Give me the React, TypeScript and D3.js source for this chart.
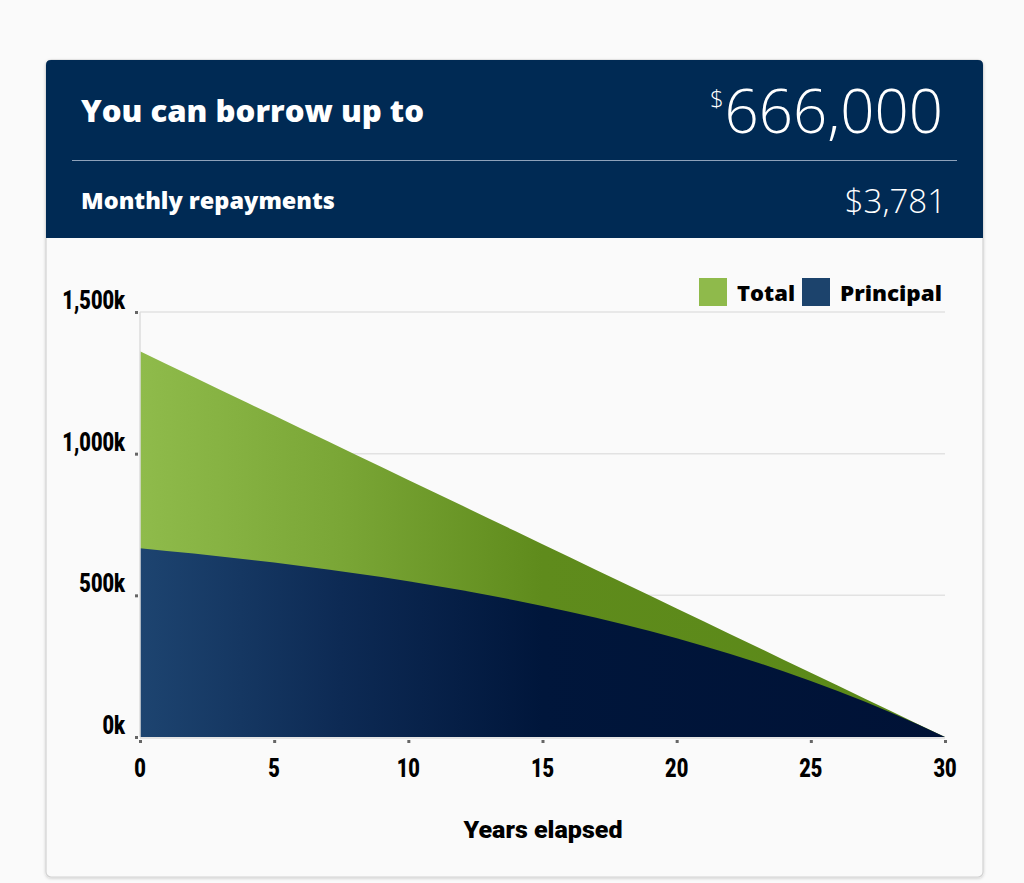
import React, { useEffect, useRef } from "react";
import * as d3 from "d3";

const years = [0,1,2,3,4,5,6,7,8,9,10,11,12,13,14,15,16,17,18,19,20,21,22,23,24,25,26,27,28,29,30];
const totalK = [1361.2,1315.8,1270.4,1225.0,1179.7,1134.3,1088.9,1043.6,998.2,952.8,907.4,862.1,816.7,771.3,726.0,680.6,635.2,589.8,544.5,499.1,453.7,408.4,363.0,317.6,272.2,226.9,181.5,136.1,90.7,45.4,0];
const principalK = [665.9,656.9,647.5,637.4,626.9,615.7,603.9,591.4,578.3,564.3,549.7,534.2,517.7,500.4,482.1,462.7,442.3,420.7,397.9,373.9,348.4,321.6,293.1,263.1,231.4,198.0,162.6,125.2,85.7,44.1,0];
const yTicks = [0, 500, 1000, 1500];
const xTicks = [0, 5, 10, 15, 20, 25, 30];
const legendItems = ["Total", "Principal"];

const W = 1024, H = 883;
const M = { left: 140, right: 945, top: 312, bottom: 737 };

export default function App() {
  const ref = useRef<SVGSVGElement | null>(null);
  useEffect(() => {
    const svg = d3.select(ref.current);
    svg.selectAll("*").remove();
    const defs = svg.append("defs");
    const gGreen = defs.append("linearGradient").attr("id", "gGreen").attr("gradientUnits", "userSpaceOnUse")
      .attr("x1", M.left).attr("x2", M.right).attr("y1", 0).attr("y2", 0);
    [[0, "#8fbb4b"], [0.25, "#7aa636"], [0.5, "#5f8b1c"], [1, "#5a8918"]].forEach(([o, c]) =>
      gGreen.append("stop").attr("offset", o as number).attr("stop-color", c as string));
    const gNavy = defs.append("linearGradient").attr("id", "gNavy").attr("gradientUnits", "userSpaceOnUse")
      .attr("x1", M.left).attr("x2", M.right).attr("y1", 0).attr("y2", 0);
    [[0, "#1d4470"], [0.25, "#0d2a54"], [0.5, "#00163b"], [1, "#001236"]].forEach(([o, c]) =>
      gNavy.append("stop").attr("offset", o as number).attr("stop-color", c as string));
    const shadow = defs.append("filter").attr("id", "sh").attr("x", "-5%").attr("y", "-5%").attr("width", "110%").attr("height", "110%");
    shadow.append("feDropShadow").attr("dx", 0).attr("dy", 1).attr("stdDeviation", 1.5).attr("flood-color", "#000").attr("flood-opacity", 0.18);

    svg.append("rect").attr("width", W).attr("height", H).attr("fill", "#fafafa");
    // card
    svg.append("rect").attr("x", 46).attr("y", 60).attr("width", 937).attr("height", 817).attr("rx", 5)
      .attr("fill", "#fafafa").attr("stroke", "#d2d2d2").attr("stroke-width", 1.2).attr("filter", "url(#sh)");
    // header
    svg.append("path").attr("d", "M46,238 V65 Q46,60 51,60 H978 Q983,60 983,65 V238 Z").attr("fill", "#002a54");
    svg.append("line").attr("x1", 72).attr("x2", 957).attr("y1", 160.5).attr("y2", 160.5).attr("stroke", "#8ea2bb").attr("stroke-width", 1.2);
    const hf = "'Open Sans', Lato, sans-serif";
    svg.append("text").attr("x", 81).attr("y", 122).attr("fill", "#fff").attr("font-family", hf).attr("font-weight", 800)
      .attr("font-size", 30).attr("textLength", 343).attr("lengthAdjust", "spacingAndGlyphs").text("You can borrow up to");
    const big = svg.append("text").attr("x", 947).attr("y", 133).attr("text-anchor", "end").attr("fill", "#fff")
      .attr("font-family", "'Open Sans', Lato, sans-serif").attr("font-weight", 300).attr("font-size", 60);
    big.append("tspan").attr("font-size", 24).attr("dy", -26).attr("dx", -4).text("$");
    big.append("tspan").attr("dy", 26).attr("dx", 1).text("666,000");
    svg.append("text").attr("x", 81).attr("y", 209).attr("fill", "#fff").attr("font-family", hf).attr("font-weight", 800)
      .attr("font-size", 22).attr("textLength", 254).attr("lengthAdjust", "spacingAndGlyphs").text("Monthly repayments");
    svg.append("text").attr("x", 946).attr("y", 213).attr("text-anchor", "end").attr("fill", "#fff")
      .attr("font-family", "'Open Sans', Lato, sans-serif").attr("font-weight", 300).attr("font-size", 33).text("$3,781");

    const x = d3.scaleLinear().domain([0, 30]).range([M.left, M.right]);
    const y = d3.scaleLinear().domain([0, 1500]).range([M.bottom, M.top]);

    // grid
    svg.append("g").selectAll("line").data(yTicks.filter(t => t > 0)).join("line")
      .attr("x1", M.left).attr("x2", M.right).attr("y1", d => y(d)).attr("y2", d => y(d))
      .attr("stroke", "#e2e2e2").attr("stroke-width", 1.5);

    const area = (vals: number[]) => d3.area<number>().x((_, i) => x(years[i])).y0(y(0)).y1(d => y(d))(vals);
    svg.append("path").attr("d", area(totalK) as string).attr("fill", "url(#gGreen)");
    svg.append("path").attr("d", area(principalK) as string).attr("fill", "url(#gNavy)");

    // axes lines
    svg.append("line").attr("x1", M.left).attr("x2", M.left).attr("y1", M.top).attr("y2", M.bottom).attr("stroke", "#dcdcdc").attr("stroke-width", 1.5);
    svg.append("line").attr("x1", M.left).attr("x2", M.right).attr("y1", M.bottom + 1).attr("y2", M.bottom + 1).attr("stroke", "#dcdcdc").attr("stroke-width", 1.5);

    const af = "Roboto, 'DejaVu Sans', sans-serif";
    const sx = 0.8;
    const fmt = d3.format(",");
    const yg = svg.append("g");
    yg.selectAll("rect").data(yTicks).join("rect").attr("x", M.left - 5).attr("y", d => y(d) - 1).attr("width", 3).attr("height", 3).attr("fill", "#666");
    yg.selectAll("text").data(yTicks).join("text").attr("transform", d => `translate(125,${y(d) - 3}) scale(${sx},1)`).attr("text-anchor", "end")
      .attr("font-family", af).attr("font-weight", 900).attr("font-size", 25).attr("fill", "#000").text(d => fmt(d) + "k");
    const xg = svg.append("g");
    xg.selectAll("rect").data(xTicks).join("rect").attr("x", d => x(d) - 1).attr("y", M.bottom + 3).attr("width", 3).attr("height", 3).attr("fill", "#666");
    xg.selectAll("text").data(xTicks).join("text").attr("transform", d => `translate(${x(d)},777) scale(${sx},1)`).attr("text-anchor", "middle")
      .attr("font-family", af).attr("font-weight", 900).attr("font-size", 25).attr("fill", "#000").text(d => String(d));
    svg.append("text").attr("x", 543).attr("y", 838).attr("text-anchor", "middle").attr("font-family", af).attr("font-weight", 900)
      .attr("font-size", 23).attr("textLength", 159).attr("lengthAdjust", "spacingAndGlyphs").attr("fill", "#000").text("Years elapsed");

    // legend
    const lg = svg.append("g");
    const sw = ["#8fba4b", "#1c436c"];
    const lx = [699, 802];
    const lw = [58, 102];
    legendItems.forEach((name, i) => {
      lg.append("rect").attr("x", lx[i]).attr("y", 278).attr("width", 28).attr("height", 28).attr("fill", sw[i]);
      lg.append("text").attr("x", lx[i] + 38).attr("y", 301).attr("font-family", hf).attr("font-weight", 800)
        .attr("font-size", 21).attr("textLength", lw[i]).attr("lengthAdjust", "spacingAndGlyphs").attr("fill", "#000").text(name);
    });
  }, []);
  return (
    <svg ref={ref} width={W} height={H} style={{ position: "absolute", left: 0, top: 0, display: "block" }} />
  );
}
